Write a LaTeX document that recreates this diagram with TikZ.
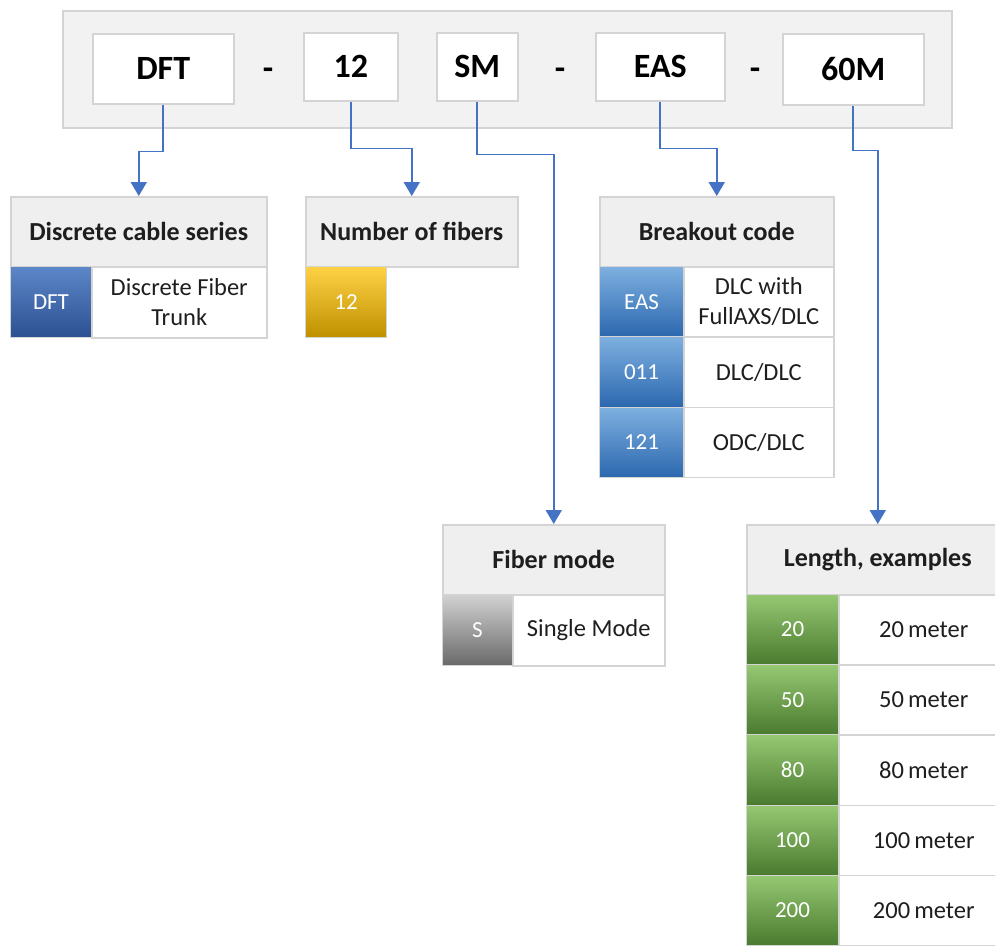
\documentclass[tikz,border=0pt]{standalone}
\usepackage{fontspec}
\setmainfont{Carlito}
\usetikzlibrary{arrows.meta,shadings}
\definecolor{linkblue}{HTML}{4472C4}
\definecolor{bordergray}{HTML}{D4D4D4}
\definecolor{framegray}{HTML}{F2F2F2}
\definecolor{hdrgray}{HTML}{EFEFEF}
\definecolor{txt}{HTML}{1E1E1E}
\definecolor{bdTop}{RGB}{92,135,200}
\definecolor{bdBot}{RGB}{44,80,146}
\definecolor{blTop}{RGB}{126,176,224}
\definecolor{blBot}{RGB}{44,104,175}
\definecolor{yTop}{RGB}{255,210,70}
\definecolor{yMid}{RGB}{255,192,0}
\definecolor{yBot}{RGB}{190,144,0}
\definecolor{gTop}{RGB}{210,210,210}
\definecolor{gBot}{RGB}{105,105,105}
\definecolor{grTop}{RGB}{150,200,115}
\definecolor{grMid}{RGB}{106,168,68}
\definecolor{grBot}{RGB}{74,122,46}
\tikzset{
  frame/.style={draw=bordergray, line width=1.5pt, fill=framegray, anchor=north west, inner sep=0pt},
  code/.style={draw=bordergray, line width=1.5pt, fill=white, text=black, anchor=north west, inner sep=0pt,
    font=\fontsize{34}{40}\selectfont\bfseries},
  dashsym/.style={text=black, inner sep=0pt, font=\fontsize{34}{40}\selectfont\bfseries},
  hdr/.style={draw=bordergray, line width=1.5pt, fill=hdrgray, text=txt, anchor=north west, inner sep=0pt,
    minimum height=70pt, font=\fontsize{26}{30}\selectfont\bfseries},
  ccell/.style={draw=bordergray, line width=1pt, anchor=north west, inner sep=0pt, text=white,
    font=\fontsize{23}{27}\selectfont},
  tcell/.style={draw=bordergray, line width=1.5pt, fill=white, text=txt, anchor=north west, inner sep=0pt,
    align=center, font=\fontsize{24.5}{30}\selectfont},
  bluedark/.style={ccell, top color=bdTop, bottom color=bdBot},
  bluelight/.style={ccell, top color=blTop, bottom color=blBot},
  yellowc/.style={ccell, top color=yTop, middle color=yMid, bottom color=yBot},
  grayc/.style={ccell, top color=gTop, bottom color=gBot},
  greenc/.style={ccell, top color=grTop, middle color=grMid, bottom color=grBot},
  conn/.style={draw=linkblue, line width=1.9pt, -{Triangle[width=16pt,length=14pt]}}
}
\begin{document}
\begin{tikzpicture}[x=1pt,y=-1pt]
\useasboundingbox (0,0) rectangle (995,945);
\fill[white] (0,0) rectangle (995,945);
% top frame
\node[frame, minimum width=889pt, minimum height=117pt] (top) at (62,10) {};
\node[code, minimum width=141pt, minimum height=70pt] (dft) at (92,33) {DFT};
\node[dashsym] (d1) at (268,74) {-};
\node[code, minimum width=94pt, minimum height=68pt] (n12) at (303,32) {12};
\node[code, minimum width=81pt, minimum height=68pt] (sm) at (436,32) {SM};
\node[dashsym] (d2) at (560,74) {-};
\node[code, minimum width=129pt, minimum height=68pt] (eas) at (595,32) {EAS};
\node[dashsym] (d3) at (755,74) {-};
\node[code, minimum width=141pt, minimum height=71pt] (m60) at (782,33) {60M};

% Discrete cable series
\node[hdr, minimum width=256pt] (h1) at (10,196) {Discrete cable series};
\node[bluedark, minimum width=81pt, minimum height=71pt] (c1) at (10,266) {DFT};
\node[tcell, minimum width=175pt, minimum height=71pt] (t1) at (91,266) {Discrete Fiber\\Trunk};

% Number of fibers
\node[hdr, minimum width=212pt] (h2) at (305,196) {Number of fibers};
\node[yellowc, minimum width=81pt, minimum height=71pt] (c2) at (305,266) {12};

% Breakout code
\node[hdr, minimum width=234pt] (h3) at (599,196) {Breakout code};
\node[bluelight, minimum width=84pt, minimum height=70.3pt] (c3a) at (599,266) {EAS};
\node[tcell, minimum width=150pt, minimum height=70.3pt] (t3a) at (683,266) {DLC with\\FullAXS/DLC};
\node[bluelight, minimum width=84pt, minimum height=70.3pt] (c3b) at (599,336.3) {011};
\node[tcell, minimum width=150pt, minimum height=70.3pt] (t3b) at (683,336.3) {DLC/DLC};
\node[bluelight, minimum width=84pt, minimum height=70.3pt] (c3c) at (599,406.6) {121};
\node[tcell, minimum width=150pt, minimum height=70.3pt] (t3c) at (683,406.6) {ODC/DLC};

% Fiber mode
\node[hdr, minimum width=222pt] (h4) at (442,524) {Fiber mode};
\node[grayc, minimum width=70pt, minimum height=71pt] (c4) at (442,594) {S};
\node[tcell, minimum width=152pt, minimum height=71pt] (t4) at (512,594) {Single Mode};

% Length, examples
\node[hdr, minimum width=262pt] (h5) at (746,524) {Length, examples};
\foreach \v [count=\i from 0] in {20,50,80,100,200} {
  \node[greenc, minimum width=92pt, minimum height=70.2pt] (c5\i) at (746,594+70.2*\i) {\v};
  \node[tcell, minimum width=170pt, minimum height=70.2pt] (t5\i) at (838,594+70.2*\i) {\v\,meter};
}

% connectors
\draw[conn] (dft.south) -- ++(0,47) -| (h1.north);
\draw[conn] (n12.south) -- ++(0,47) -| (h2.north);
\draw[conn] (sm.south) -- ++(0,53) -| (h4.north);
\draw[conn] (eas.south) -- ++(0,47) -| (h3.north);
\draw[conn] (m60.south) -- ++(0,45) -| (h5.north);
\end{tikzpicture}
\end{document}
